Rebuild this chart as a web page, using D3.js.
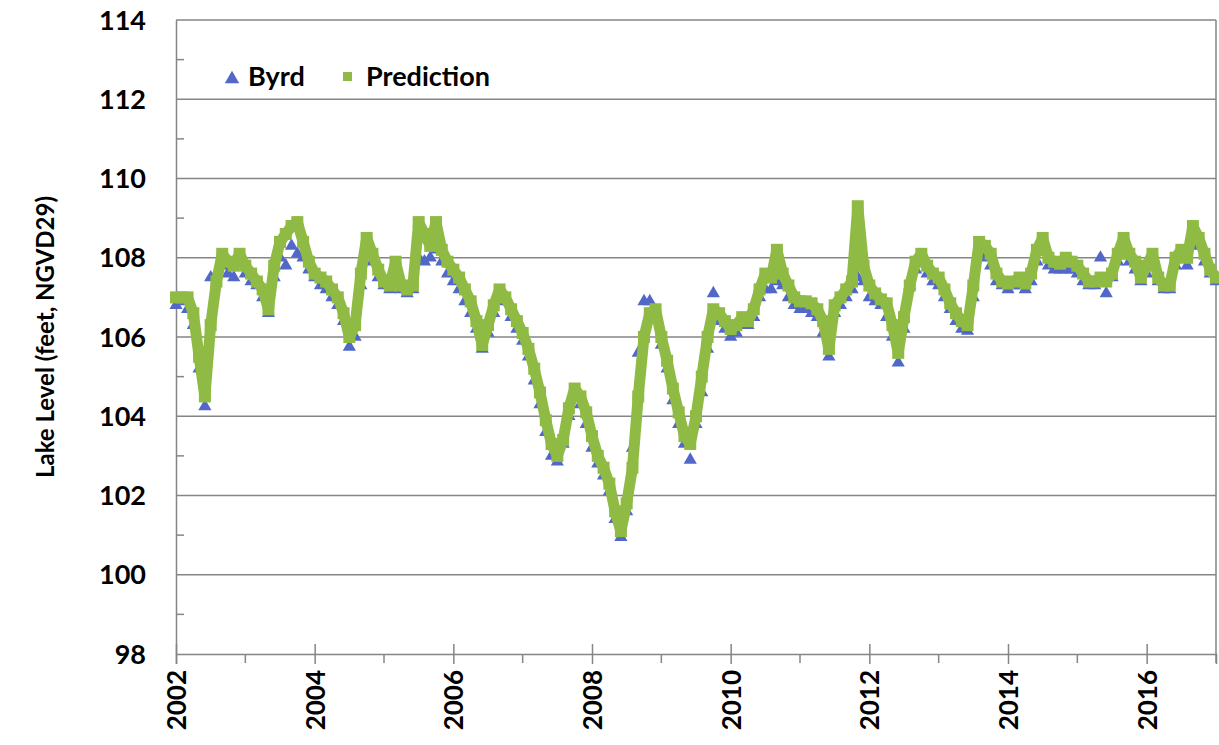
<!DOCTYPE html>
<html>
<head>
<meta charset="utf-8">
<script src="https://cdn.jsdelivr.net/npm/d3@7"></script>
<style>
    body { margin: 0; background: #fff; }
    text { font-family: Lato, "Open Sans", sans-serif; font-weight: bold; fill: #000; }
</style>
</head>
<body>
<svg width="1219" height="745"></svg>
<script>
// monthly series, first value = Jan 2002, last = Jan 2017
const startYear = 2002;

const prediction = [
    107.0, 107.0, 107.0, 106.6, 105.5, 104.5, 106.3, 107.4, 108.1, 107.9, 107.8, 108.1,
    107.8, 107.6, 107.4, 107.2, 106.7, 107.8, 108.4, 108.6, 108.8, 108.9, 108.4, 107.9,
    107.6, 107.5, 107.4, 107.2, 107.0, 106.6, 106.0, 106.3, 107.6, 108.5, 108.1, 107.7,
    107.4, 107.3, 107.9, 107.3, 107.2, 107.3, 108.9, 108.6, 108.3, 108.9, 108.2, 107.9,
    107.7, 107.5, 107.2, 106.9, 106.4, 105.8, 106.3, 106.8, 107.2, 107.0, 106.7, 106.4,
    106.1, 105.7, 105.2, 104.6, 103.9, 103.3, 103.0, 103.4, 104.2, 104.7, 104.5, 104.1,
    103.5, 103.0, 102.7, 102.3, 101.6, 101.1, 101.8, 102.7, 104.5, 106.0, 106.6, 106.7,
    106.0, 105.4, 104.7, 104.1, 103.5, 103.3, 104.0, 105.0, 106.0, 106.7, 106.6, 106.4,
    106.2, 106.3, 106.5, 106.4, 106.7, 107.2, 107.6, 107.5, 108.2, 107.6, 107.3, 107.0,
    106.9, 106.9, 106.85, 106.7, 106.4, 105.7, 106.8, 107.0, 107.2, 107.4, 109.3, 107.8,
    107.3, 107.1, 106.95, 106.85, 106.3, 105.6, 106.5, 107.3, 107.9, 108.1, 107.8, 107.6,
    107.5, 107.2, 106.85, 106.6, 106.4, 106.3, 107.3, 108.4, 108.3, 108.1, 107.6, 107.4,
    107.35, 107.4, 107.5, 107.35, 107.6, 108.2, 108.5, 108.0, 107.9, 107.85, 108.0, 107.9,
    107.8, 107.6, 107.4, 107.4, 107.5, 107.4, 107.6, 108.1, 108.5, 108.1, 107.9, 107.5,
    107.8, 108.1, 107.5, 107.3, 107.3, 108.0, 108.2, 108.0, 108.8, 108.5, 108.1, 107.7,
    107.5
];

const byrd = [
    106.8, 106.9, 106.7, 106.3, 105.2, 104.25, 107.5, 107.6, 107.8, 107.6, 107.5, 107.9,
    107.6, 107.4, 107.3, 107.0, 106.6, 107.5, 108.0, 107.8, 108.3, 108.1, 108.0, 107.7,
    107.5, 107.3, 107.2, 107.0, 106.8, 106.4, 105.75, 106.0, 107.3, 108.2, 107.9, 107.5,
    107.3, 107.2, 107.6, 107.2, 107.1, 107.2, 108.0, 107.9, 108.0, 108.2, 107.9, 107.6,
    107.4, 107.2, 106.9, 106.6, 106.2, 105.7, 106.1, 106.6, 107.0, 106.9, 106.5, 106.2,
    105.9, 105.5, 104.9, 104.3, 103.6, 103.0, 102.85, 103.3, 104.0, 104.6, 104.3, 103.8,
    103.2, 102.8, 102.5, 102.1, 101.4, 100.95, 101.6, 103.2, 105.6, 106.9, 106.9, 106.5,
    105.8, 105.2, 104.4, 103.8, 103.3, 102.9, 103.8, 104.6, 105.7, 107.1, 106.4, 106.2,
    106.0, 106.1, 106.3, 106.3, 106.5, 107.0, 107.2, 107.2, 107.4, 107.3, 107.0, 106.8,
    106.7, 106.7, 106.6, 106.5, 106.1, 105.5, 106.6, 106.8, 107.0, 107.2, 107.5, 107.4,
    107.0, 106.9, 106.8, 106.5, 106.0, 105.35, 106.2, 107.3, 107.7, 107.9, 107.6, 107.4,
    107.3, 107.0, 106.7, 106.4, 106.2, 106.15, 107.0, 108.1, 108.0, 107.8, 107.4, 107.3,
    107.2, 107.3, 107.3, 107.2, 107.4, 107.9, 108.2, 107.8, 107.7, 107.7, 107.7, 107.7,
    107.6, 107.4, 107.3, 107.3, 108.0, 107.1, 107.5, 107.9, 108.2, 107.9, 107.7, 107.4,
    107.6, 107.9, 107.4, 107.2, 107.2, 107.8, 108.0, 107.8, 108.5, 108.3, 107.9, 107.6,
    107.4
];

const yearTicks = [2002, 2004, 2006, 2008, 2010, 2012, 2014, 2016];
const minorYears = [2003, 2005, 2007, 2009, 2011, 2013, 2015, 2017];
const levelTicks = [98, 100, 102, 104, 106, 108, 110, 112, 114];
const minorLevels = [99, 101, 103, 105, 107, 109, 111, 113];

const legendItems = ["Byrd", "Prediction"];
const yTitle = "Lake Level (feet, NGVD29)";

const BLUE = "#5168c8";
const GREEN = "#8fbb45";
const GRID = "#858585";

const plot = { left: 176, right: 1216, top: 20, bottom: 654 };

const svg = d3.select("svg");
const x = d3.scaleLinear().domain([2002, 2017]).range([plot.left, plot.right]);
const y = d3.scaleLinear().domain([98, 114]).range([plot.bottom, plot.top]);

const toDate = i => startYear + i / 12;

// gridlines (includes the top frame at 114)
svg.append("g")
    .selectAll("line")
    .data(levelTicks.slice(1))
    .enter().append("line")
    .attr("x1", plot.left).attr("x2", plot.right)
    .attr("y1", d => y(d)).attr("y2", d => y(d))
    .style("stroke", GRID)
    .style("stroke-width", 1.5);

// right frame
svg.append("line")
    .attr("x1", plot.right).attr("x2", plot.right)
    .attr("y1", plot.top).attr("y2", plot.bottom)
    .style("stroke", GRID).style("stroke-width", 1.5);

// y axis
const yAxis = svg.append("g")
    .attr("transform", `translate(${plot.left},0)`)
    .call(d3.axisLeft(y).tickValues(levelTicks).tickSize(0).tickPadding(30));
yAxis.select(".domain").style("stroke", GRID).style("stroke-width", 1.5);
yAxis.selectAll("text").style("font-size", "27px").attr("dy", "0.34em");

svg.append("g")
    .selectAll("line")
    .data(minorLevels)
    .enter().append("line")
    .attr("x1", plot.left).attr("x2", plot.left + 8)
    .attr("y1", d => y(d)).attr("y2", d => y(d))
    .style("stroke", GRID).style("stroke-width", 1.5);

// x axis
const xAxis = svg.append("g")
    .attr("transform", `translate(0,${plot.bottom})`)
    .call(d3.axisBottom(x).tickValues(yearTicks).tickFormat(d3.format("d")).tickSize(10).tickPadding(8));
xAxis.select(".domain").style("stroke", GRID).style("stroke-width", 1.5);
xAxis.selectAll(".tick line").attr("y1", -10).style("stroke", GRID).style("stroke-width", 1.5);
xAxis.selectAll("text")
    .style("font-size", "26px")
    .attr("transform", "rotate(-90)")
    .attr("dy", "0.36em")
    .attr("x", -16).attr("y", 0)
    .style("text-anchor", "end");

svg.append("g")
    .selectAll("line")
    .data(minorYears)
    .enter().append("line")
    .attr("x1", d => x(d)).attr("x2", d => x(d))
    .attr("y1", plot.bottom).attr("y2", plot.bottom + 9)
    .style("stroke", GRID).style("stroke-width", 1.5);

// y title
svg.append("text")
    .attr("transform", `translate(54,${(plot.top + plot.bottom) / 2}) rotate(-90)`)
    .attr("text-anchor", "middle")
    .style("font-size", "24px")
    .text(yTitle);

// Byrd triangles
const tri = d3.symbol().type(d3.symbolTriangle).size(75);
svg.append("g")
    .selectAll("path")
    .data(byrd)
    .enter().append("path")
    .attr("d", tri)
    .attr("transform", (d, i) => `translate(${x(toDate(i))},${y(d)})`)
    .style("fill", BLUE);

// prediction band
const line = d3.line()
    .x((d, i) => x(toDate(i)))
    .y(d => y(d));

svg.append("path")
    .datum(prediction)
    .attr("d", line)
    .style("fill", "none")
    .style("stroke", GREEN)
    .style("stroke-width", 11)
    .style("stroke-linejoin", "round");

svg.append("g")
    .selectAll("rect")
    .data(prediction)
    .enter().append("rect")
    .attr("x", (d, i) => x(toDate(i)) - 6)
    .attr("y", d => y(d) - 6)
    .attr("width", 12).attr("height", 12)
    .style("fill", GREEN);

// legend
const legend = svg.append("g");
legend.append("path")
    .attr("d", d3.symbol().type(d3.symbolTriangle).size(90))
    .attr("transform", "translate(232,79)")
    .style("fill", BLUE);
legend.append("text")
    .attr("x", 248).attr("y", 86)
    .style("font-size", "27px")
    .text(legendItems[0]);
legend.append("rect")
    .attr("x", 343).attr("y", 72)
    .attr("width", 9).attr("height", 9)
    .style("fill", GREEN);
legend.append("text")
    .attr("x", 366).attr("y", 86)
    .style("font-size", "27px")
    .text(legendItems[1]);
</script>
</body>
</html>
